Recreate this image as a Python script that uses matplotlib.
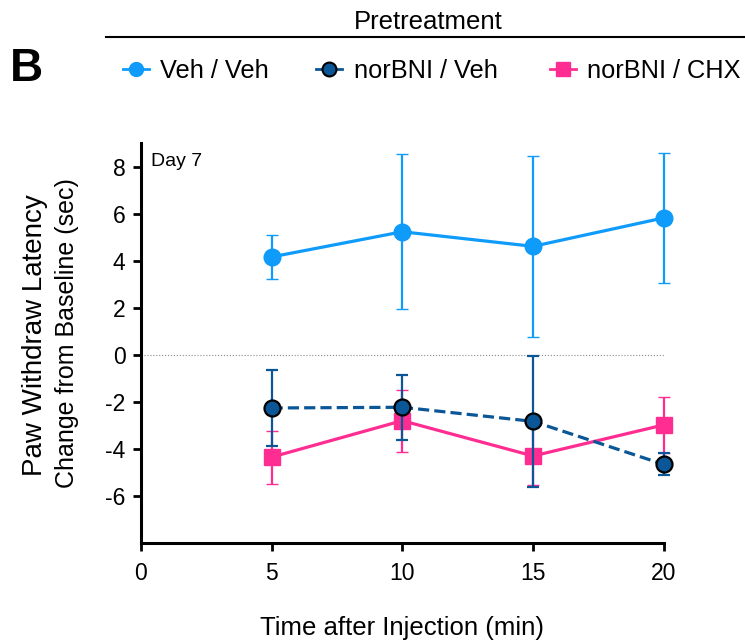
import matplotlib
matplotlib.use("Agg")
import matplotlib.pyplot as plt
from matplotlib.lines import Line2D

plt.rcParams['font.family'] = ['Liberation Sans', 'DejaVu Sans']
plt.rcParams['axes.unicode_minus'] = False

# Data
time_min = [5, 10, 15, 20]

veh_veh_mean = [4.16, 5.23, 4.61, 5.82]
veh_veh_sem = [0.95, 3.30, 3.84, 2.75]

nor_veh_mean = [-2.26, -2.23, -2.83, -4.66]
nor_veh_sem = [1.61, 1.38, 2.77, 0.47]

nor_chx_mean = [-4.35, -2.80, -4.30, -2.98]
nor_chx_sem = [1.13, 1.32, 1.23, 1.19]

labels = ['Veh / Veh', 'norBNI / Veh', 'norBNI / CHX']
c_veh = '#0F9BFA'
c_nor = '#0A5696'
c_chx = '#FF2D91'

W, H = 745, 643
fig = plt.figure(figsize=(W / 100, H / 100), dpi=100)
ax = fig.add_axes([0.189, 0.1555, 0.702, 0.622])

# zero line
ax.plot([0, 20], [0, 0], color='#888888', lw=0.8, ls=':', zorder=1)

series = [
    (nor_chx_mean, nor_chx_sem, c_chx, '-', 's', 11, c_chx, 3),
    (nor_veh_mean, nor_veh_sem, c_nor, '--', 'o', 11.5, 'black', 4),
    (veh_veh_mean, veh_veh_sem, c_veh, '-', 'o', 12, c_veh, 5),
]
for mean, sem, col, ls, mk, ms, edge, z in series:
    eb = ax.errorbar(time_min, mean, yerr=sem, color=col, lw=2.3, ls=ls,
                     marker=mk, ms=ms, mfc=col, mec=edge,
                     mew=1.6 if edge == 'black' else 1.0,
                     elinewidth=1.6, capsize=4, capthick=1.6, zorder=z)
    if ls == '--':
        eb[0].set_dashes((3.5, 1.6))
    for art in eb.get_children():
        art.set_clip_on(False)

ax.set_xlim(0, 20)
ax.set_ylim(-8, 9)
ax.set_xticks([0, 5, 10, 15, 20])
ax.set_yticks([-6, -4, -2, 0, 2, 4, 6, 8])
ax.spines['top'].set_visible(False)
ax.spines['right'].set_visible(False)
ax.spines['left'].set_linewidth(2.2)
ax.spines['bottom'].set_linewidth(2.2)
ax.tick_params(width=2, length=6, labelsize=16.5)
ax.tick_params(axis='x', pad=8)
ax.tick_params(axis='y', pad=5)

ax.text(0.4, 8.2, 'Day 7', fontsize=14, va='center', ha='left')

ax.set_xlabel('Time after Injection (min)', fontsize=18.5, labelpad=22)

fig.text(0.047, 0.479, 'Paw Withdraw Latency', rotation=90, fontsize=20,
         ha='center', va='center')
fig.text(0.090, 0.482, 'Change from Baseline (sec)', rotation=90, fontsize=18,
         ha='center', va='center')

# header
fig.text(0.013, 0.893, 'B', fontsize=33, fontweight='bold', ha='left',
         va='center')
fig.text(0.575, 0.966, 'Pretreatment', fontsize=18.5, ha='center', va='center')
fig.add_artist(Line2D([106 / W, 1.0], [1 - 37 / H, 1 - 37 / H], color='black',
                      lw=1.5, transform=fig.transFigure))

# legend, entries placed by hand
leg_marker_x = [136, 329, 563]
leg_text_x = [160, 354, 587]
leg_styles = [
    dict(color=c_veh, marker='o', ms=10, mfc=c_veh, mec=c_veh),
    dict(color=c_nor, marker='o', ms=10, mfc=c_nor, mec='black', mew=1.5),
    dict(color=c_chx, marker='s', ms=9.5, mfc=c_chx, mec=c_chx),
]
for mx, tx, lab, st in zip(leg_marker_x, leg_text_x, labels, leg_styles):
    fig.add_artist(Line2D([(mx - 13) / W, (mx + 13) / W], [1 - 69 / H] * 2,
                          lw=2, color=st['color'], transform=fig.transFigure))
    fig.add_artist(Line2D([mx / W], [1 - 69 / H], ls='none',
                          transform=fig.transFigure, **st))
    fig.text(tx / W, 1 - 78.3 / H, lab, fontsize=18.3, ha='left',
             va='baseline')

fig.savefig('out.png', dpi=100)
